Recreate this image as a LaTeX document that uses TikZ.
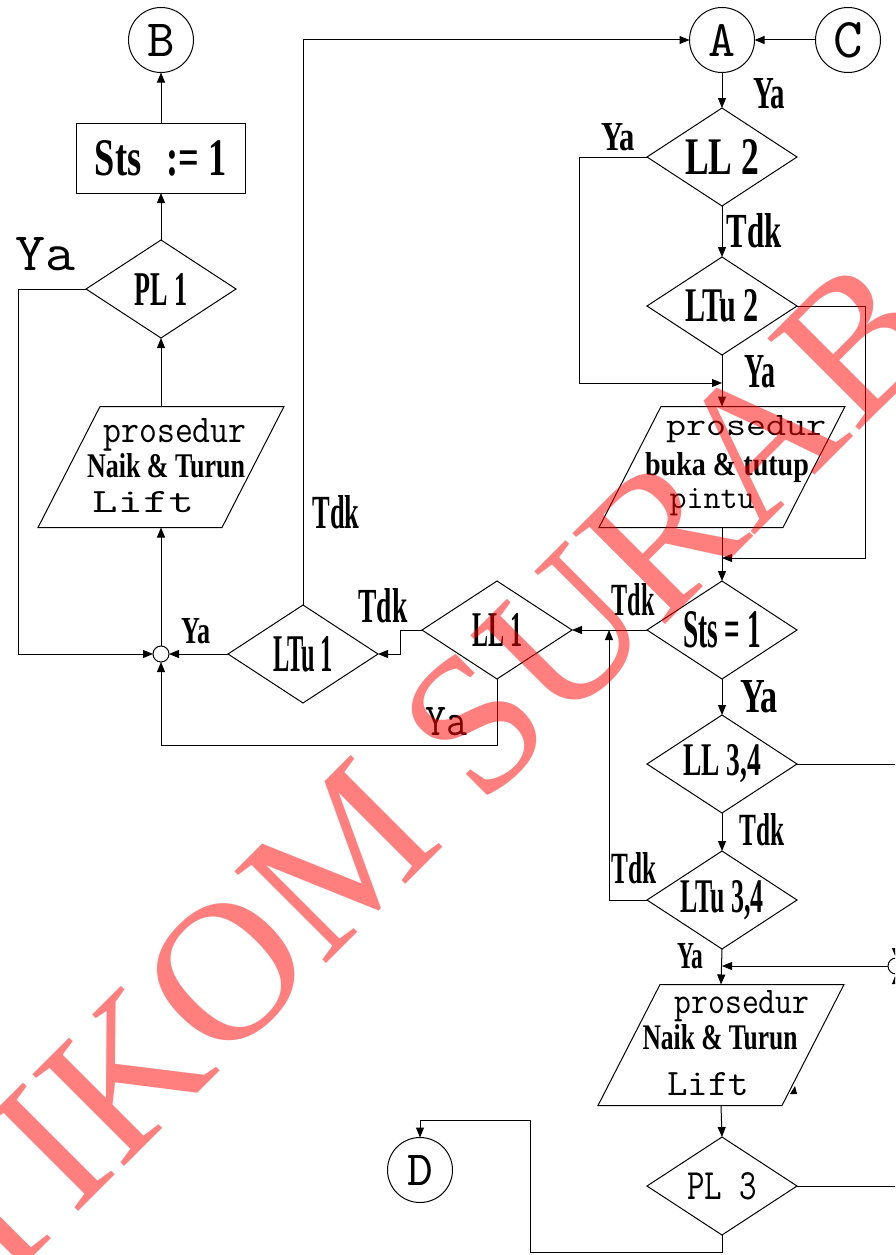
\documentclass[tikz,border=0pt]{standalone}
\usepackage{fontspec}
\setmainfont{Liberation Serif}
\newcommand\monof{\ttfamily}
\usepackage{graphicx}
\usetikzlibrary{shapes.geometric,arrows.meta}
\newcommand\rs[3]{\resizebox{#1pt}{#2pt}{\bfseries #3}}
\newcommand\rsm[3]{\resizebox{#1pt}{#2pt}{\monof #3}}
\newcommand\rh[2]{\resizebox{!}{#1pt}{\monof #2}}
\newcommand\drawpar[1]{\draw[ln] ([xshift=31pt]#1.north west) -- ([xshift=31pt]#1.north east) -- ([xshift=-31pt]#1.south east) -- ([xshift=-31pt]#1.south west) -- cycle;}
\begin{document}
\begin{tikzpicture}[x=1pt,y=-1pt,
  ln/.style={line width=1pt, draw=black},
  arr/.style={ln, -{Triangle[length=10pt,width=8pt]}},
  dia/.style={draw, line width=1pt, shape=diamond, aspect=1.5, minimum width=150pt, minimum height=98pt, inner sep=0pt, outer sep=0pt, font=\fontsize{40}{40}\selectfont},
  circ/.style={draw, line width=1pt, circle, minimum size=65pt, inner sep=0pt, outer sep=0pt},
  jn/.style={draw, line width=1pt, circle, minimum size=16pt, inner sep=0pt, outer sep=0pt},
  procbox/.style={draw, line width=1pt, rectangle, minimum width=169pt, minimum height=70pt, inner sep=0pt, outer sep=0pt, font=\fontsize{40}{40}\selectfont},
  parl/.style={rectangle, minimum width=184pt, minimum height=121pt, inner sep=0pt, outer sep=0pt},
  tx/.style={inner sep=0pt, outer sep=0pt, anchor=base, font=\fontsize{40}{40}\selectfont},
  wm/.style={inner sep=0pt, outer sep=0pt, text=red, text opacity=0.5, font=\fontsize{198}{198}\selectfont}
]
\useasboundingbox (0,0) rectangle (895,1255);
\fill[white] (0,0) rectangle (895,1255);
\clip (0,0) rectangle (895,1255);

% ---------- left column ----------
\node[circ] (B) at (161,40) {\rh{32}{B}};
\node[procbox] (Sts) at (161,158) {\rs{132}{35}{Sts\hspace{0.7em}:= 1}};
\node[dia] (PL1) at (161,289) {\rs{53}{32}{PL 1}};
\node[parl] (P1) at (161,467) {};
\drawpar{P1}
\node[tx] (P1a) at (175,442) {\rsm{143}{24}{prosedur}};
\node[tx] (P1b) at (166,477) {\rs{158}{24}{Naik \& Turun}};
\node[tx] (P1c) at (143,512) {\rsm{102}{21}{Lift}};
\node[jn] (J1) at (161,654) {};
\node[dia] (LTu1) at (303,654) {\rs{60}{35}{LTu 1}};
\node[dia] (LL1) at (497,630) {\rs{50}{33}{LL 1}};

\node[tx] (yaBig) at (45,270) {\rsm{60}{33}{Ya}};
\node[tx] (yaJ1) at (196,643) {\rs{29}{25}{Ya}};
\node[tx] (tdkV) at (336,528) {\rs{47}{33}{Tdk}};
\node[tx] (tdkL1) at (383,622) {\rs{49}{34}{Tdk}};
\node[tx] (yaL1) at (446,735) {\rsm{42}{28}{Ya}};

% ---------- right column ----------
\node[circ] (A) at (722,40) {\rh{32}{A}};
\node[circ] (C) at (848,40) {\rh{35}{C}};
\node[dia] (LL2) at (722,157) {\rs{74}{35}{LL 2}};
\node[dia] (LTu2) at (722,306) {\rs{74}{32}{LTu 2}};
\node[parl] (P2) at (722,467) {};
\drawpar{P2}
\node[tx] (P2a) at (746,435) {\rsm{160}{20}{prosedur}};
\node[tx] (P2b) at (727,475) {\rs{164}{23}{buka \& tutup}};
\node[tx] (P2c) at (712,508) {\rsm{85}{20}{pintu}};
\node[dia] (Sts1) at (722,630) {\rs{78}{36}{Sts = 1}};
\node[dia] (LL34) at (722,764) {\rs{78}{31}{LL 3,4}};
\node[dia] (LTu34) at (722,900) {\rs{83}{32}{LTu 3,4}};
\node[parl] (P3) at (721,1045) {};
\drawpar{P3}
\node[tx] (P3a) at (742,1013) {\rsm{135}{23}{prosedur}};
\node[tx] (P3b) at (720,1049) {\rs{155}{25}{Naik \& Turun}};
\node[tx] (P3c) at (708,1095) {\rsm{82}{23}{Lift}};
\node[dia] (PL3) at (722,1186) {\rsm{70}{27}{PL 3}};
\node[circ] (D) at (420,1170) {\rh{30}{D}};
\node[jn] (J2) at (896,966) {};

\node[tx] (yaA) at (769,108) {\rs{32}{30}{Ya}};
\node[tx] (yaLL2) at (618,150) {\rs{34}{27}{Ya}};
\node[tx] (tdkLL2) at (754,247) {\rs{55}{34}{Tdk}};
\node[tx] (yaLTu2) at (760,387) {\rs{31}{32}{Ya}};
\node[tx] (tdkSts) at (633,615) {\rs{43}{32}{Tdk}};
\node[tx] (yaSts) at (759,712) {\rs{38}{32}{Ya}};
\node[tx] (tdkLL34) at (762,845) {\rs{45}{32}{Tdk}};
\node[tx] (tdkLTu34) at (634,883) {\rs{45}{31}{Tdk}};
\node[tx] (yaLTu34) at (690,968) {\rs{26}{25}{Ya}};

% junction coordinates
\coordinate (m1) at (722,383);
\coordinate (m2) at (722,558);
\coordinate (m3) at (609,630);
\coordinate (m4) at (722,966);
\coordinate (e1) at (900,764);
\coordinate (e2) at (900,1186);
\coordinate (k1) at (530,1120);
\coordinate (j2a) at (896,930);
\coordinate (j2b) at (896,1002);

% ---------- connectors ----------
\draw[arr] (Sts.north) -- (B.south);
\draw[arr] (PL1.north) -- (Sts.south);
\draw[arr] (P1.north) -- (PL1.south);
\draw[arr] (J1.north) -- (P1.south);
\draw[arr] (PL1.west) -- ++(-68,0) |- (J1.west);
\draw[arr] (LTu1.west) -- (J1.east);
\draw[arr] (LL1.south) -- ++(0,66) -| (J1.south);
\draw[arr] (LTu1.north) |- (A.west);
\draw[arr] (C.west) -- (A.east);
\draw[arr] (A.south) -- (LL2.north);
\draw[arr] (LL2.south) -- (LTu2.north);
\draw[arr] (LL2.west) -- ++(-68,0) |- (m1);
\draw[arr] (LTu2.south) -- (P2.north);
\draw[arr] (LTu2.east) -- ++(68,0) |- (m2);
\draw[arr] (P2.south) -- (Sts1.north);
\draw[arr] (Sts1.west) -- (LL1.east);
\draw[arr] (LL1.west) -- ++(-22,0) |- (LTu1.east);
\draw[arr] (Sts1.south) -- (LL34.north);
\draw[ln] (LL34.east) -- (e1);
\draw[arr] (LL34.south) -- (LTu34.north);
\draw[arr] (LTu34.west) -| (m3);
\draw[arr] (LTu34.south) -- (P3.north);
\draw[arr] (J2.west) -- (m4);
\draw[arr] (j2a) -- (J2.north);
\draw[arr] (j2b) -- (J2.south);
\draw[arr] (P3.south) -- (PL3.north);
\draw[ln] (PL3.east) -- (e2);
\draw[arr] (PL3.south) -- ++(0,17) -| (k1) -| (D.north);
\fill (790,1094) -- (797,1094) -- (795,1086) -- cycle;

% ---------- watermark ----------
\node[wm, rotate=45, anchor=base west] (wmk) at (-90,1380) {STIKOM SURABAYA};
\end{tikzpicture}
\end{document}
